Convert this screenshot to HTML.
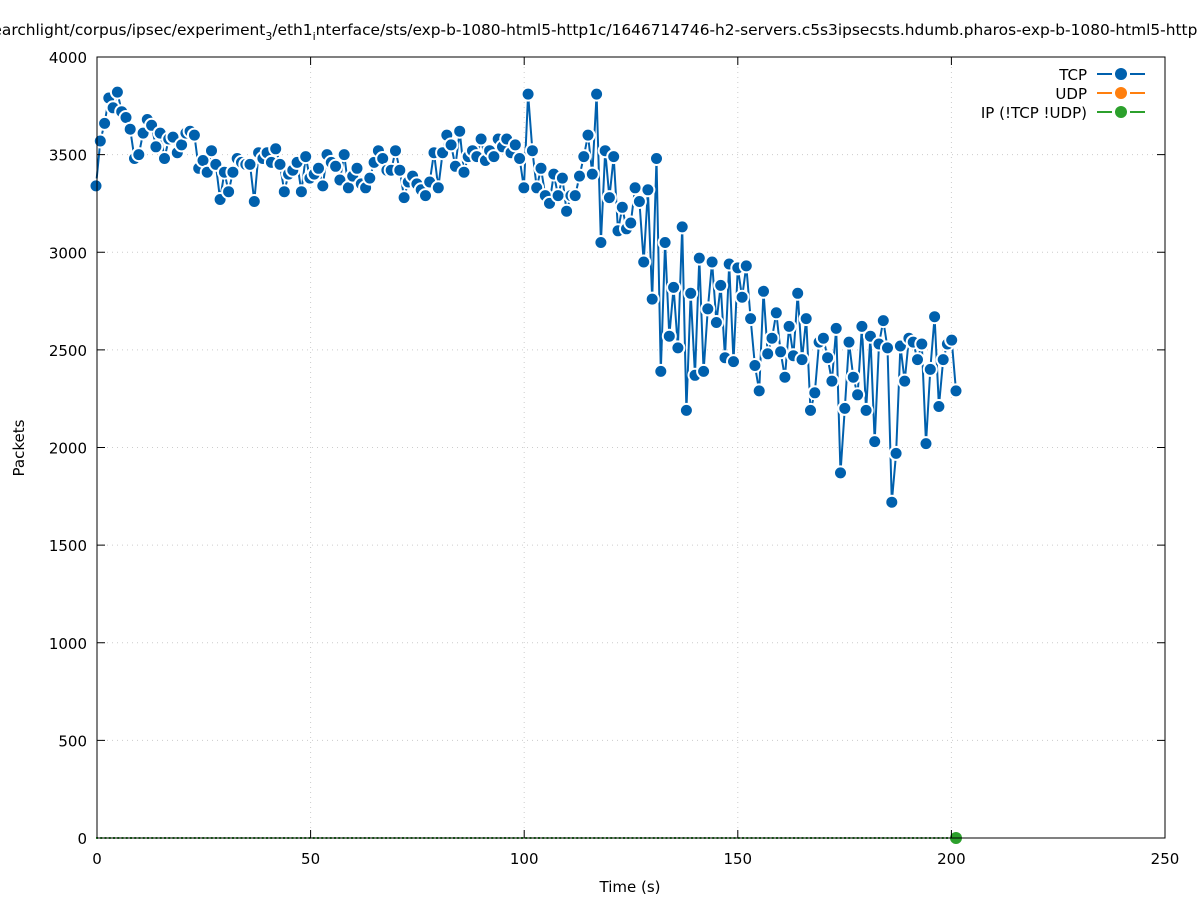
<!DOCTYPE html>
<html><head><meta charset="utf-8"><style>
html,body{margin:0;padding:0;background:#fff;}
svg{display:block;font-family:"DejaVu Sans","Liberation Sans",sans-serif;}
</style></head><body>
<svg id="s" width="1197" height="900" xmlns="http://www.w3.org/2000/svg">
<rect width="1197" height="900" fill="#fff"/>
<g id="grid"></g>
<g id="data"></g>
<rect x="97" y="57" width="1068" height="781" fill="none" stroke="#000" stroke-width="1"/>
<g id="ticks" stroke="#000"></g>
<g id="labels" font-size="15" fill="#000"></g>
<text x="600" y="35" font-size="15.4" text-anchor="middle">searchlight/corpus/ipsec/experiment<tspan font-size="11" dy="5">3</tspan><tspan dy="-5">/eth1</tspan><tspan font-size="11" dy="5">i</tspan><tspan dy="-5">nterface/sts/exp-b-1080-html5-http1c/1646714746-h2-servers.c5s3ipsecsts.hdumb.pharos-exp-b-1080-html5-http1c</tspan></text>
<text x="630" y="892" font-size="15" text-anchor="middle">Time (s)</text>
<text x="24" y="448" font-size="15" text-anchor="middle" transform="rotate(-90 24 448)">Packets</text>
<g font-size="15" text-anchor="end">
<text x="1087" y="80">TCP</text>
<text x="1087" y="99">UDP</text>
<text x="1087" y="118">IP (!TCP  !UDP)</text>
</g>
<g stroke-width="2">
<path d="M1097 74h15M1130 74h15" stroke="#0060ad"/><circle cx="1121" cy="74" r="6" fill="#0060ad"/>
<path d="M1097 93h15M1130 93h15" stroke="#ff7f0e"/><circle cx="1121" cy="93" r="6" fill="#ff7f0e"/>
<path d="M1097 112h15M1130 112h15" stroke="#2ca02c"/><circle cx="1121" cy="112" r="6" fill="#2ca02c"/>
</g>
</svg>
<script>
var NS="http://www.w3.org/2000/svg";
function el(p,t,a){var e=document.createElementNS(NS,t);for(var k in a)e.setAttribute(k,a[k]);document.getElementById(p).appendChild(e);return e;}
function X(t){return 97+t*1068/250;}
function Y(v){return 838-v*781/4000;}
for(var i=0;i<=5;i++){var x=X(i*50);
 if(i>0&&i<5)el("grid","line",{x1:x,y1:57,x2:x,y2:838,stroke:"#ccc","stroke-dasharray":"1,4"});
 el("ticks","line",{x1:x,y1:838,x2:x,y2:830});el("ticks","line",{x1:x,y1:57,x2:x,y2:65});
 var t=el("labels","text",{x:x,y:864,"text-anchor":"middle"});t.textContent=i*50;}
for(var i=0;i<=8;i++){var y=Y(i*500);
 if(i>0&&i<8)el("grid","line",{x1:97,y1:y,x2:1165,y2:y,stroke:"#ccc","stroke-dasharray":"1,4"});
 el("ticks","line",{x1:97,y1:y,x2:105,y2:y});el("ticks","line",{x1:1165,y1:y,x2:1157,y2:y});
 var t=el("labels","text",{x:87,y:y+6,"text-anchor":"end"});t.textContent=i*500;}
var d=[3340,3570,3660,3790,3740,3820,3720,3690,3630,3480,3500,3610,3680,3650,3540,3610,3480,3580,3590,3510,3550,3610,3620,3600,3430,3470,3410,3520,3450,3270,3410,3310,3410,3480,3460,3450,3450,3260,3510,3480,3510,3460,3530,3450,3310,3400,3420,3460,3310,3490,3380,3400,3430,3340,3500,3460,3440,3370,3500,3330,3390,3430,3350,3330,3380,3460,3520,3480,3420,3420,3520,3420,3280,3360,3390,3350,3320,3290,3360,3510,3330,3510,3600,3550,3440,3620,3410,3490,3520,3490,3580,3470,3520,3490,3580,3540,3580,3510,3550,3480,3330,3810,3520,3330,3430,3290,3250,3400,3290,3380,3210,3290,3290,3390,3490,3600,3400,3810,3050,3520,3280,3490,3110,3230,3120,3150,3330,3260,2950,3320,2760,3480,2390,3050,2570,2820,2510,3130,2190,2790,2370,2970,2390,2710,2950,2640,2830,2460,2940,2440,2920,2770,2930,2660,2420,2290,2800,2480,2560,2690,2490,2360,2620,2470,2790,2450,2660,2190,2280,2540,2560,2460,2340,2610,1870,2200,2540,2360,2270,2620,2190,2570,2030,2530,2650,2510,1720,1970,2520,2340,2560,2540,2450,2530,2020,2400,2670,2210,2450,2530,2550,2290];
var n=d.length,step=(956-96)/(n-1),pts=[];
for(var i=0;i<n;i++)pts.push((96+i*step).toFixed(1)+","+Y(d[i]).toFixed(1));
el("data","line",{x1:96,y1:838,x2:956,y2:838,stroke:"#2ca02c","stroke-width":2,"stroke-dasharray":"2,2.25"});
el("data","polyline",{points:pts.join(" "),fill:"none",stroke:"#0060ad","stroke-width":2});
for(var i=0;i<n;i++){var p=pts[i].split(",");el("data","circle",{cx:p[0],cy:p[1],r:6.5,fill:"#0060ad",stroke:"#fff","stroke-width":2});}
el("data","circle",{cx:956,cy:838,r:6,fill:"#2ca02c"});
</script>
</body></html>
